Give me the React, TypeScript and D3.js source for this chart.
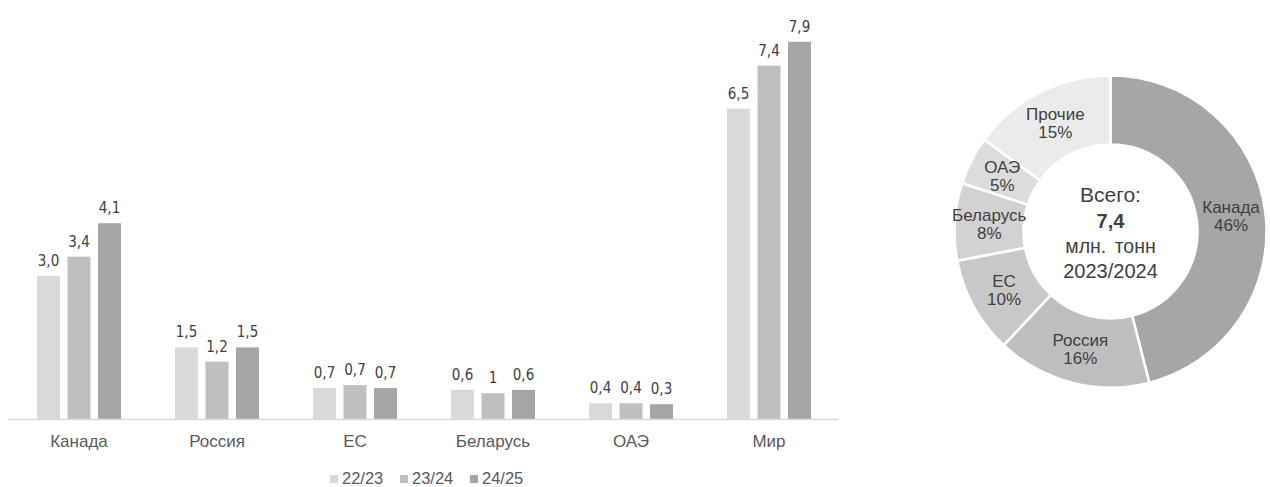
import React from "react";
import * as d3 from "d3";

const categories = ["Канада", "Россия", "ЕС", "Беларусь", "ОАЭ", "Мир"];
const seriesNames = ["22/23", "23/24", "24/25"];
const values2223 = [3.0, 1.5, 0.65, 0.61, 0.33, 6.5];
const values2324 = [3.4, 1.2, 0.71, 0.54, 0.33, 7.4];
const values2425 = [4.1, 1.5, 0.65, 0.61, 0.31, 7.9];
const labels2223 = ["3,0", "1,5", "0,7", "0,6", "0,4", "6,5"];
const labels2324 = ["3,4", "1,2", "0,7", "1", "0,4", "7,4"];
const labels2425 = ["4,1", "1,5", "0,7", "0,6", "0,3", "7,9"];
const barColors = ["#d9d9d9", "#bfbfbf", "#a5a5a5"];

const donutNames = ["Канада", "Россия", "ЕС", "Беларусь", "ОАЭ", "Прочие"];
const donutShares = [46, 16, 10, 8, 5, 15];
const donutColors = ["#a6a6a6", "#bebebe", "#c8c8c8", "#d2d2d2", "#dcdcdc", "#ebebeb"];
const centerLines = ["Всего:", "7,4", "млн. тонн", "2023/2024"];

const W = 1270;
const H = 487;

export default function App() {
  const values = [values2223, values2324, values2425];
  const labels = [labels2223, labels2324, labels2425];

  const x = d3.scaleBand<string>().domain(categories).range([10, 838]);
  const inner = d3
    .scaleBand<string>()
    .domain(seriesNames)
    .range([-45.75, 45.75])
    .paddingInner(0.246)
    .paddingOuter(0.123);
  const y = d3.scaleLinear().domain([0, 8]).range([419, 37]);

  const cx = 1110.5;
  const cy = 231.5;
  const rOuter = 156;
  const rInner = 87;
  const pie = d3.pie<number>().sort(null).value((d) => d)(donutShares);
  const arc = d3.arc<d3.PieArcDatum<number>>().innerRadius(rInner).outerRadius(rOuter);

  const sans = "'Liberation Sans', Arial, sans-serif";
  const narrow = "'Liberation Sans Narrow', 'DejaVu Sans Condensed', sans-serif";

  return (
    <svg
      width={W}
      height={H}
      style={{ position: "absolute", left: 0, top: 0, background: "#fff" }}
    >
      <rect width={W} height={H} fill="#fff" />
      {categories.map((c, ci) => {
        const cxCat = (x(c) as number) + x.bandwidth() / 2;
        return (
          <g key={c}>
            {seriesNames.map((s, si) => {
              const bx = cxCat + (inner(s) as number);
              const v = values[si][ci];
              return (
                <g key={s}>
                  <rect
                    x={bx}
                    y={y(v)}
                    width={inner.bandwidth()}
                    height={y(0) - y(v)}
                    fill={barColors[si]}
                  />
                  <text
                    x={bx + inner.bandwidth() / 2}
                    y={y(v) - 10}
                    textAnchor="middle"
                    fontFamily={narrow}
                    fontSize={15}
                    fill="#404040"
                  >
                    {labels[si][ci]}
                  </text>
                </g>
              );
            })}
            <text
              x={cxCat}
              y={447}
              textAnchor="middle"
              fontFamily={sans}
              fontSize={17}
              fill="#595959"
            >
              {c}
            </text>
          </g>
        );
      })}
      <line x1={8} x2={838} y1={419.5} y2={419.5} stroke="#d9d9d9" strokeWidth={1.5} />

      {seriesNames.map((s, si) => {
        const lx = [330, 400, 470][si];
        return (
          <g key={s}>
            <rect x={lx} y={475} width={8} height={8} fill={barColors[si]} />
            <text x={lx + 12} y={483.5} fontFamily={sans} fontSize={16.5} fill="#595959">
              {s}
            </text>
          </g>
        );
      })}

      <g transform={`translate(${cx},${cy})`}>
        {pie.map((p, i) => (
          <path key={i} d={arc(p) as string} fill={donutColors[i]} stroke="#fff" strokeWidth={2.5} />
        ))}
        {pie.map((p, i) => {
          const [tx, ty] = arc.centroid(p);
          return (
            <text
              key={"t" + i}
              textAnchor="middle"
              fontFamily={sans}
              fontSize={17}
              fill="#404040"
            >
              <tspan x={tx} y={ty - 3}>
                {donutNames[i]}
              </tspan>
              <tspan x={tx} y={ty + 15}>
                {donutShares[i] + "%"}
              </tspan>
            </text>
          );
        })}
        <text textAnchor="middle" fontFamily={sans} fill="#404040">
          <tspan x={0} y={202 - cy} fontSize={21}>
            {centerLines[0]}
          </tspan>
          <tspan x={0} y={228 - cy} fontSize={20} fontWeight="bold">
            {centerLines[1]}
          </tspan>
          <tspan x={0} y={253 - cy} fontSize={19.5} wordSpacing={3}>
            {centerLines[2]}
          </tspan>
          <tspan x={0} y={278 - cy} fontSize={20}>
            {centerLines[3]}
          </tspan>
        </text>
      </g>
    </svg>
  );
}
